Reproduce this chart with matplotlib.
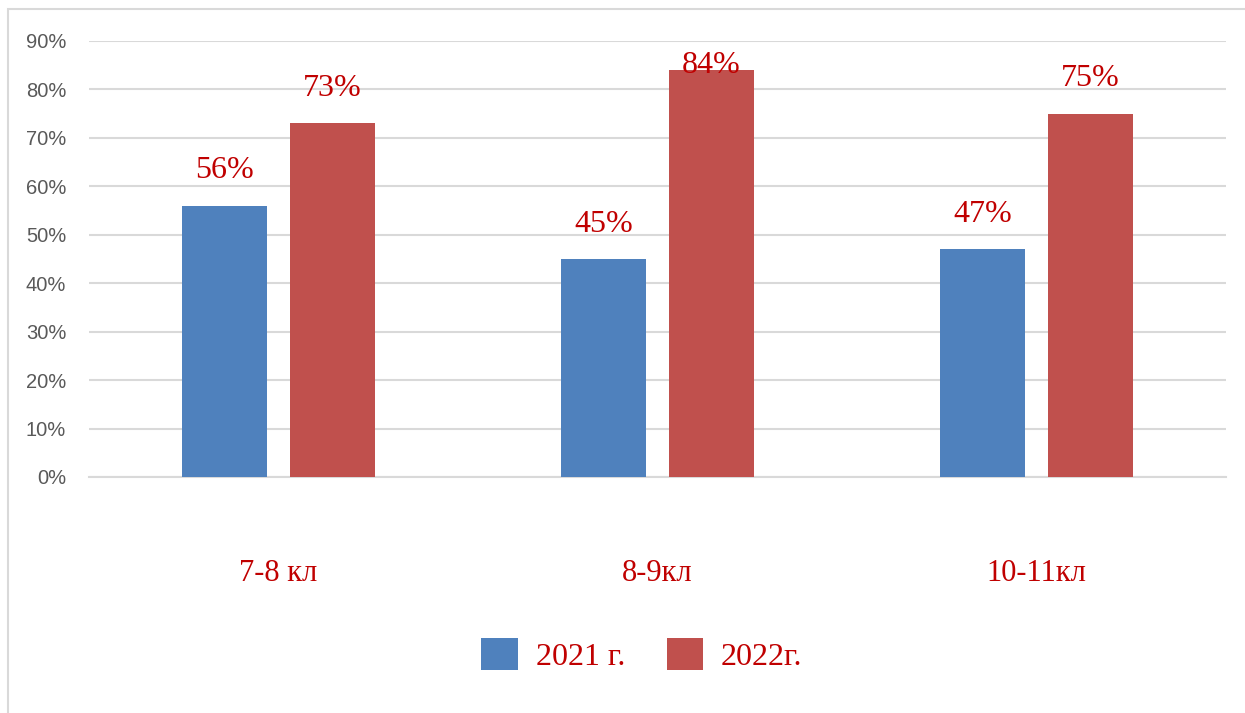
import matplotlib.pyplot as plt
import matplotlib.patches as mpatches
import numpy as np

plt.rcParams['font.family'] = ['Liberation Sans', 'DejaVu Sans']

# data
categories = ['7-8 кл', '8-9кл', '10-11кл']
series_names = ['2021 г.', '2022г.']
values_2021 = [56, 45, 47]
values_2022 = [73, 84, 75]
y_ticks = [0, 10, 20, 30, 40, 50, 60, 70, 80, 90]

blue = '#4F81BD'
red = '#C0504D'
label_color = '#C00000'
grid_color = '#D9D9D9'
serif = ['Liberation Serif', 'DejaVu Serif']

fig = plt.figure(figsize=(12.45, 7.13), dpi=100)
ax = fig.add_axes([89 / 1245, 1 - 477 / 713, (1226 - 89) / 1245, (477 - 41) / 713])

# outer chart border (only left and top edges visible in the picture)
fig.patches.append(mpatches.Rectangle((8 / 1245, -0.05), 1.2, 1 - 9 / 713 + 0.05,
                                      transform=fig.transFigure, fill=False,
                                      edgecolor=grid_color, linewidth=1.5))

x = np.arange(len(categories))
width = 0.224
offset = 0.1425
bars1 = ax.bar(x - offset, values_2021, width, color=blue, label=series_names[0], zorder=3)
bars2 = ax.bar(x + offset, values_2022, width, color=red, label=series_names[1], zorder=3)

# data labels above bars
for bars, vals in [(bars1, values_2021), (bars2, values_2022)]:
    for b, v in zip(bars, vals):
        ax.text(b.get_x() + b.get_width() / 2, min(v + 7.2, 85), str(v) + '%',
                ha='center', va='center', fontsize=23, color=label_color,
                family=serif, zorder=4)

ax.set_xlim(-0.5, 2.5)
ax.set_ylim(0, 90)
ax.set_yticks(y_ticks)
ax.set_yticklabels([str(t) + '%' for t in y_ticks], fontsize=14.5, color='#595959')
ax.yaxis.grid(True, color=grid_color, linewidth=1.5, zorder=0)
ax.set_axisbelow(True)
ax.tick_params(axis='both', length=0)
ax.tick_params(axis='y', pad=16.5)
for s in ['top', 'right', 'left']:
    ax.spines[s].set_visible(False)
ax.spines['bottom'].set_color(grid_color)
ax.spines['bottom'].set_linewidth(1.5)

ax.set_xticks(x)
ax.set_xticklabels(categories, fontsize=22, color=label_color, family=serif)
ax.tick_params(axis='x', pad=59)

leg = fig.legend(handles=[bars1, bars2], labels=series_names, loc='center',
                 bbox_to_anchor=(642 / 1245, 1 - 655 / 713), ncol=2, frameon=False,
                 prop={'family': serif, 'size': 23}, handlelength=1.15, handleheight=1.15,
                 handletextpad=0.55, columnspacing=1.3)
for t in leg.get_texts():
    t.set_color(label_color)

fig.savefig('out.png', dpi=100, facecolor='white')
